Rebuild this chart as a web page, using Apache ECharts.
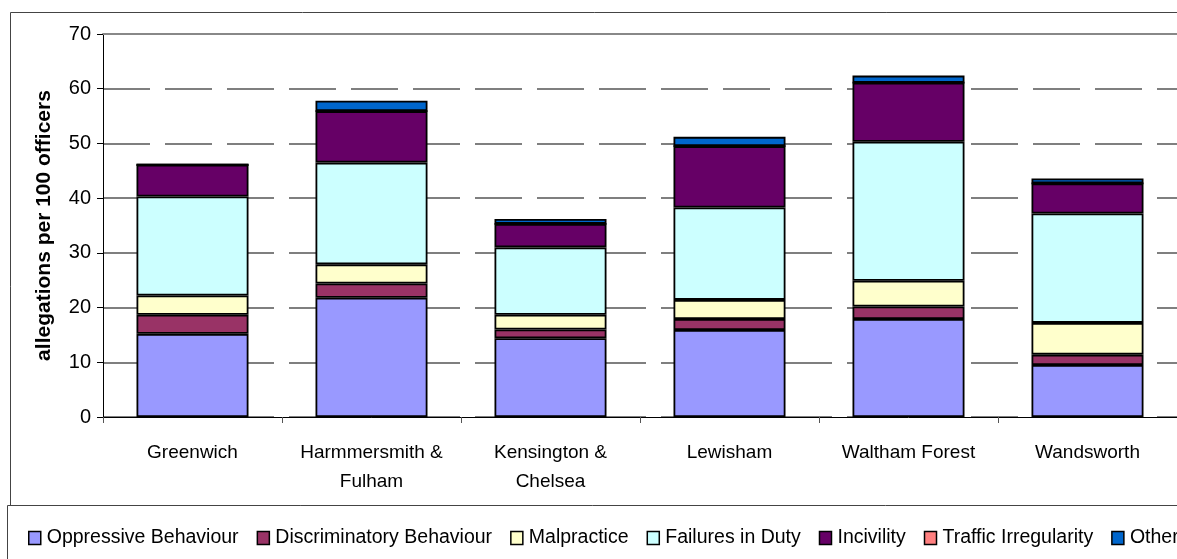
<!DOCTYPE html>
<html>
<head>
<meta charset="utf-8">
<script src="https://cdn.jsdelivr.net/npm/echarts@6/dist/echarts.min.js"></script>
<style>
  html, body { margin: 0; padding: 0; background: #fff; overflow: hidden; }
  #chart { width: 1177px; height: 559px; }
</style>
</head>
<body>
<div id="chart"></div>
<script>
// boroughs along the x axis
const boroughs = ["Greenwich", "Harmmersmith &\nFulham", "Kensington &\nChelsea", "Lewisham", "Waltham Forest", "Wandsworth"];

// allegations per 100 officers, one array per type (stacked)
const oppressive     = [15.2, 21.8, 14.4, 15.9, 17.9, 9.5];
const discriminatory = [3.5, 2.6, 1.6, 2.0, 2.3, 1.9];
const malpractice    = [3.5, 3.5, 2.7, 3.5, 4.7, 5.8];
const failuresInDuty = [18.1, 18.6, 12.3, 16.9, 25.4, 20.0];
const incivility     = [5.8, 9.4, 4.3, 11.2, 10.8, 5.5];
const traffic        = [0, 0, 0, 0, 0, 0];
const other          = [0, 1.9, 0.9, 1.7, 1.3, 0.9];

const yTicks = [0, 10, 20, 30, 40, 50, 60, 70];

const chart = echarts.init(document.getElementById("chart"));

const font = "'Liberation Sans', Arial, sans-serif";

function stackBar(name, data, color) {
  return {
    name: name,
    type: "bar",
    stack: "all",
    data: data,
    barWidth: 112,
    itemStyle: { color: color, borderColor: "#000", borderWidth: 1.8 },
    emphasis: { disabled: true },
  };
}

const options = {
  animation: false,
  backgroundColor: "#fff",
  textStyle: { fontFamily: font },
  // frame round the chart and the legend box
  graphic: [
    { type: "rect", shape: { x: 10.5, y: 12.5, width: 1300, height: 700 }, style: { fill: "none", stroke: "#444", lineWidth: 1 }, z: -10 },
    { type: "rect", shape: { x: 7.5, y: 505.5, width: 1300, height: 200 }, style: { fill: "#fff", stroke: "#444", lineWidth: 1 }, z: -5 },
  ],
  grid: { left: 103, top: 34, width: 1087, height: 383 },
  legend: {
    left: 23,
    top: 523,
    width: 1600,
    itemWidth: 12,
    itemHeight: 13,
    itemGap: 18,
    icon: "rect",
    selectedMode: false,
    textStyle: { fontFamily: font, fontSize: 19.5, color: "#000", padding: [0, 0, 0, 1] },
    itemStyle: { borderColor: "#000", borderWidth: 1.5 },
    data: ["Oppressive Behaviour", "Discriminatory Behaviour", "Malpractice", "Failures in Duty", "Incivility", "Traffic Irregularity", "Other"],
  },
  xAxis: [
    {
      type: "category",
      data: boroughs,
      axisLine: { lineStyle: { color: "#000", width: 1 } },
      axisTick: { show: true, length: 6, lineStyle: { color: "#555" } },
      axisLabel: { color: "#000", fontSize: 19, fontFamily: font, margin: 21, lineHeight: 29, interval: 0 },
    },
    {
      // solid top edge of the plot area
      type: "category",
      position: "top",
      data: boroughs,
      axisLine: { lineStyle: { color: "#888", width: 2 } },
      axisTick: { show: false },
      axisLabel: { show: false },
    },
  ],
  yAxis: {
    type: "value",
    min: yTicks[0],
    max: yTicks[yTicks.length - 1],
    interval: 10,
    name: "allegations per 100 officers",
    nameLocation: "middle",
    nameGap: 48,
    nameTextStyle: { fontFamily: font, fontSize: 21, fontWeight: "bold", color: "#000" },
    axisLine: { show: true, lineStyle: { color: "#000", width: 1 } },
    axisTick: { show: true, length: 6, lineStyle: { color: "#000" } },
    axisLabel: { color: "#000", fontSize: 20, fontFamily: font, margin: 12 },
    splitLine: { show: true, lineStyle: { color: "#555", width: 1.5, type: [47, 15] } },
  },
  series: [
    stackBar("Oppressive Behaviour", oppressive, "#9999FF"),
    stackBar("Discriminatory Behaviour", discriminatory, "#993366"),
    stackBar("Malpractice", malpractice, "#FFFFCC"),
    stackBar("Failures in Duty", failuresInDuty, "#CCFFFF"),
    stackBar("Incivility", incivility, "#660066"),
    stackBar("Traffic Irregularity", traffic, "#FF8080"),
    stackBar("Other", other, "#0066CC"),
  ],
};

chart.setOption(options);
</script>
</body>
</html>
